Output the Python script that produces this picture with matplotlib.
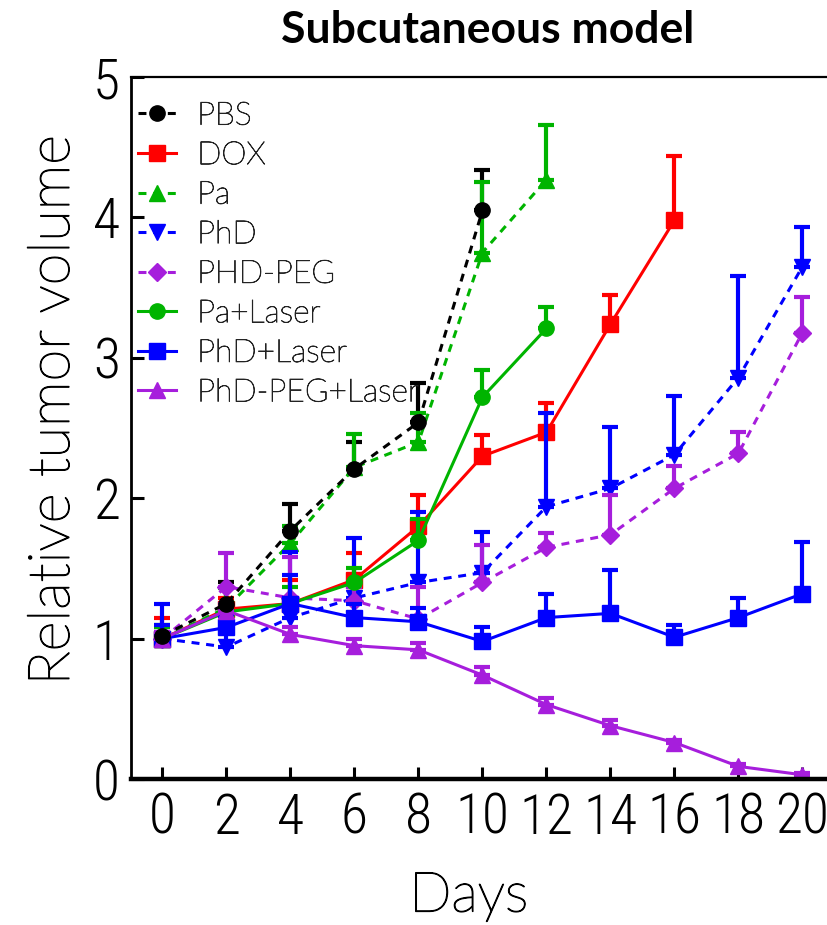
import matplotlib.pyplot as plt
import matplotlib.patheffects as pe
from matplotlib import font_manager

# fonts: narrow face for the tick numbers, light face for labels
names = {f.name for f in font_manager.fontManager.ttflist}
tick_font = 'DejaVu Sans'
for cand in ['Liberation Sans Narrow', 'Roboto Condensed', 'Open Sans Condensed']:
    if cand in names:
        tick_font = cand
        break
label_font = 'Lato' if 'Lato' in names else 'DejaVu Sans'

# data (upper error bars only)
days = [0, 2, 4, 6, 8, 10, 12, 14, 16, 18, 20]

pbs = [1.02, 1.25, 1.77, 2.21, 2.54, 4.05]
pbs_err = [0.06, 0.15, 0.19, 0.19, 0.28, 0.29]

dox = [1.00, 1.21, 1.25, 1.42, 1.80, 2.30, 2.47, 3.24, 3.98]
dox_err = [0.15, 0.08, 0.17, 0.19, 0.22, 0.15, 0.21, 0.21, 0.46]

pa = [1.00, 1.22, 1.68, 2.22, 2.40, 3.75, 4.27]
pa_err = [0.10, 0.14, 0.12, 0.24, 0.21, 0.50, 0.39]

phd = [1.00, 0.94, 1.15, 1.29, 1.40, 1.47, 1.94, 2.07, 2.31, 2.86, 3.65]
phd_err = [0.25, 0.10, 0.47, 0.43, 0.50, 0.29, 0.67, 0.44, 0.42, 0.72, 0.28]

phd_peg = [1.00, 1.37, 1.29, 1.27, 1.14, 1.40, 1.65, 1.74, 2.07, 2.32, 3.18]
phd_peg_err = [0.08, 0.24, 0.29, 0.10, 0.23, 0.27, 0.10, 0.28, 0.16, 0.15, 0.25]

pa_laser = [1.00, 1.19, 1.25, 1.40, 1.70, 2.72, 3.21]
pa_laser_err = [0.08, 0.05, 0.12, 0.10, 0.15, 0.19, 0.15]

phd_laser = [1.00, 1.08, 1.25, 1.15, 1.12, 0.98, 1.15, 1.18, 1.01, 1.15, 1.32]
phd_laser_err = [0.10, 0.08, 0.20, 0.10, 0.10, 0.10, 0.17, 0.31, 0.09, 0.14, 0.37]

phd_peg_laser = [1.00, 1.20, 1.03, 0.95, 0.92, 0.74, 0.53, 0.38, 0.26, 0.09, 0.03]
phd_peg_laser_err = [0.05, 0.05, 0.05, 0.05, 0.05, 0.06, 0.05, 0.04, 0.02, 0.02, 0.01]

groups = ['PBS', 'DOX', 'Pa', 'PhD', 'PHD-PEG', 'Pa+Laser', 'PhD+Laser', 'PhD-PEG+Laser']
values = [pbs, dox, pa, phd, phd_peg, pa_laser, phd_laser, phd_peg_laser]
errors = [pbs_err, dox_err, pa_err, phd_err, phd_peg_err, pa_laser_err, phd_laser_err, phd_peg_laser_err]
colors = ['black', '#FF0000', '#00B400', '#0000FF', '#A61EDC', '#00B400', '#0000FF', '#A61EDC']
markers = ['o', 's', '^', 'v', 'D', 'o', 's', '^']
styles = ['--', '-', '--', '--', '--', '-', '-', '-']

# light text drawn a touch heavier, like the reference
thicker = [pe.Stroke(linewidth=0.9, foreground='black'), pe.Normal()]
thicker_legend = [pe.Stroke(linewidth=0.6, foreground='#222222'), pe.Normal()]

fig = plt.figure(figsize=(8.28, 9.25), dpi=100)
ax = fig.add_axes([0.1582, 0.1578, 0.8496, 0.7589])

lines = []
for name, vals, err, c, m, ls in zip(groups, values, errors, colors, markers, styles):
    x = days[:len(vals)]
    ax.errorbar(x, vals, yerr=[[0] * len(err), err], fmt='none', ecolor=c,
                elinewidth=3, capsize=6, capthick=3)
    ms = 9 if m == 'D' else 11
    line, = ax.plot(x, vals, color=c, marker=m, markersize=ms, linewidth=2.2,
                    linestyle=ls if ls == '-' else (0, (2.6, 2.2)), label=name)
    lines.append(line)

# PBS sits on top at the start
lines[0].set_zorder(5)

ax.set_xlim(-0.984, 21.0)
ax.set_ylim(0, 5)
ax.set_xticks(days)
ax.set_yticks([0, 1, 2, 3, 4, 5])

ax.spines['left'].set_linewidth(2.0)
ax.spines['top'].set_linewidth(1.6)
ax.spines['bottom'].set_linewidth(3.2)
ax.spines['right'].set_linewidth(1.6)
ax.tick_params(direction='in', length=9, width=2.2, pad=8)
ax.tick_params(axis='x', pad=9)

for lab in ax.get_xticklabels() + ax.get_yticklabels():
    lab.set_fontfamily(tick_font)
    lab.set_fontstretch('condensed')
    lab.set_fontweight('light')
    lab.set_fontsize(40)

ax.set_xlabel('Days', fontfamily=label_font, fontweight='light', fontsize=40,
              color='black', path_effects=thicker)
ax.set_ylabel('Relative tumor volume', fontfamily=label_font, fontweight='light',
              fontsize=41.5, color='black', path_effects=thicker)
ax.yaxis.set_label_coords(-0.074, 0.525)
ax.xaxis.set_label_coords(0.48, -0.131)

leg = ax.legend(handles=lines, loc='upper left', bbox_to_anchor=(0.01, 0.965),
                frameon=False, borderpad=0, borderaxespad=0,
                handlelength=1.2, handletextpad=0.65, labelspacing=0.33,
                prop={'family': label_font, 'weight': 'light', 'size': 23})
for t in leg.get_texts():
    t.set_color('#222222')
    t.set_path_effects(thicker_legend)

fig.text(488 / 828, 1 - 30 / 925, 'Subcutaneous model', ha='center', va='center',
         fontfamily=label_font, fontweight='bold', fontsize=32)

fig.savefig('out.png', dpi=100)
